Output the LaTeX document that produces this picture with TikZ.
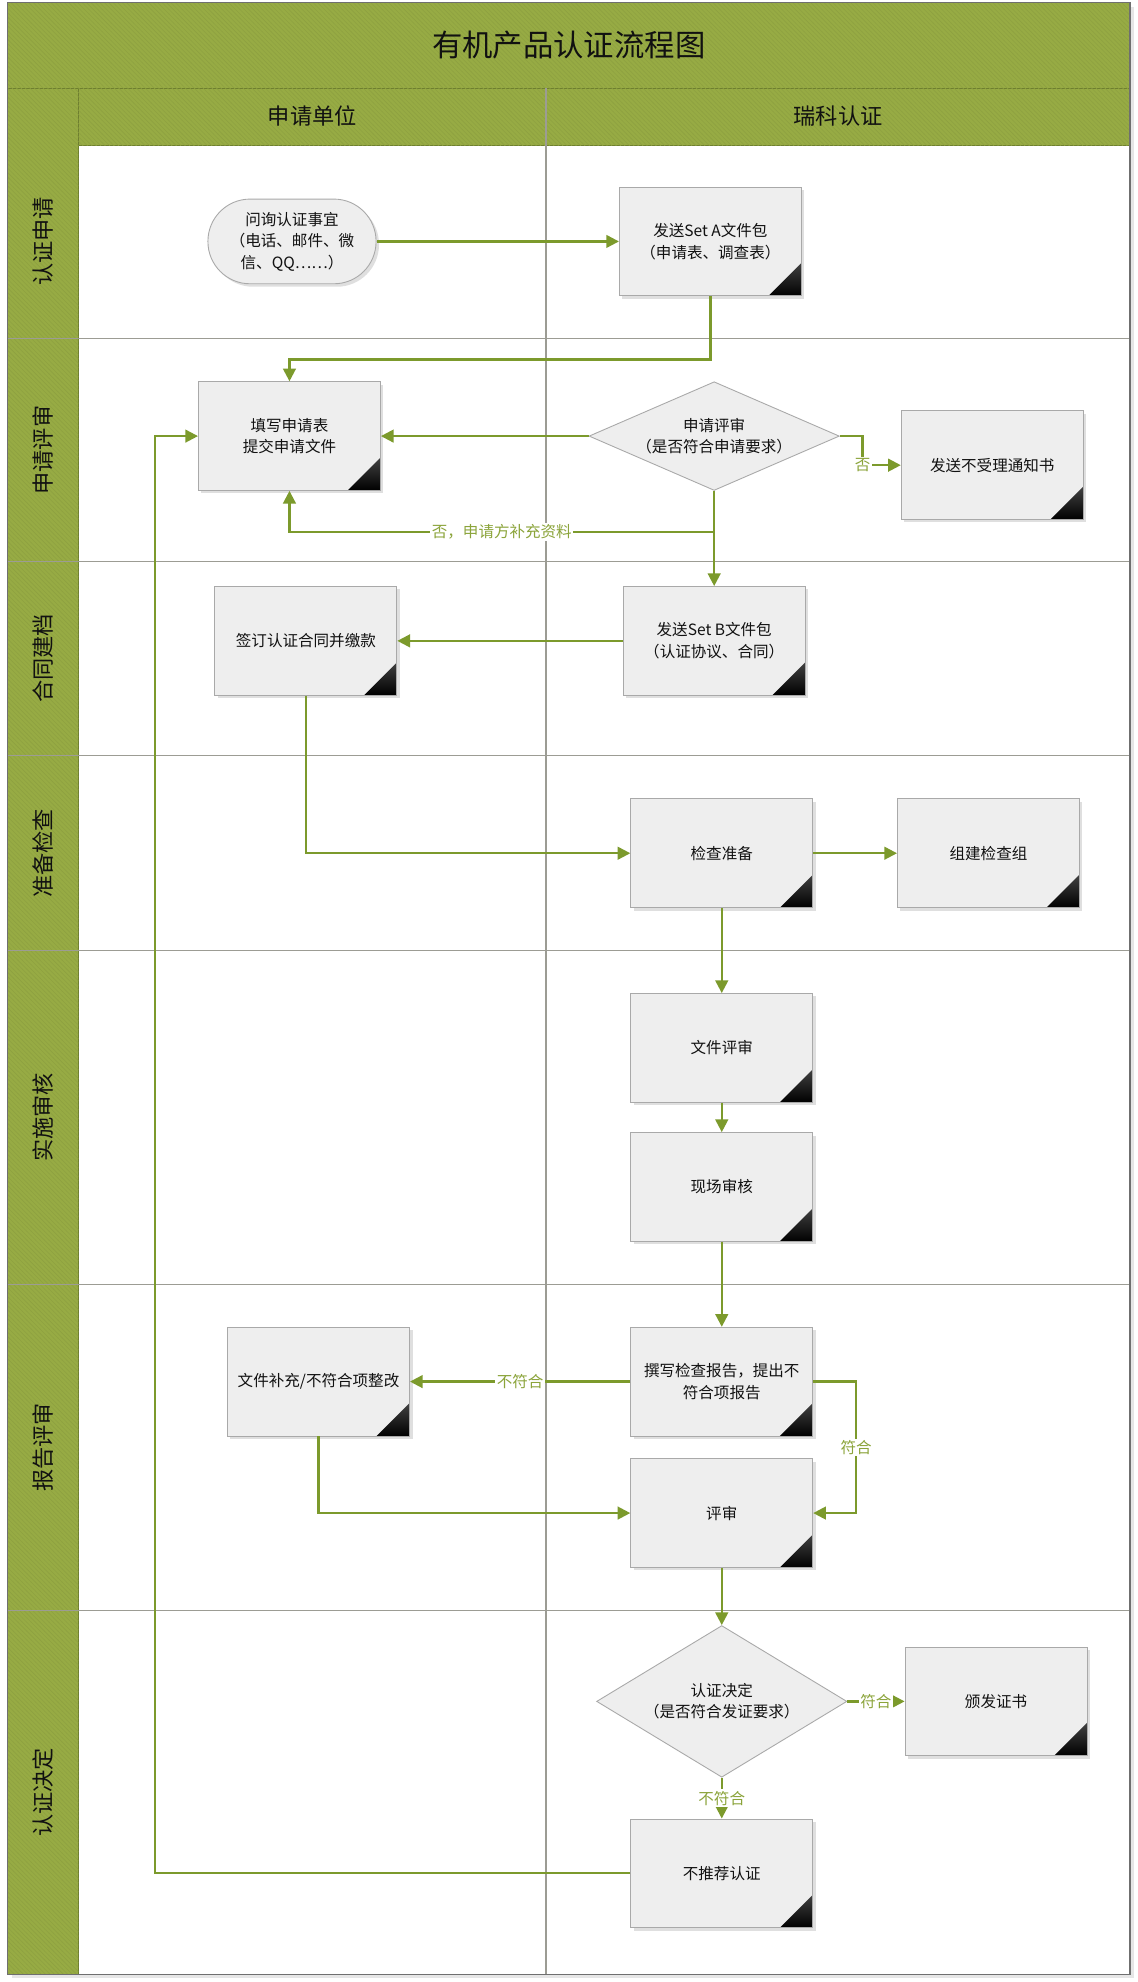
\documentclass[tikz,border=0pt]{standalone}
\usepackage{fontspec}
\setmainfont{Noto Sans CJK SC}
\usetikzlibrary{arrows.meta,positioning,shapes.geometric,shadows,patterns}
\definecolor{certInk}{HTML}{111111}
\definecolor{certBand}{HTML}{97AB44}
\definecolor{certBandLine}{HTML}{6E7F2F}
\definecolor{certFlow}{HTML}{7C9A2C}
\definecolor{certLabel}{HTML}{8BA43A}
\definecolor{certFill}{HTML}{EEEEEE}
\definecolor{certEdge}{HTML}{A9A9A9}
\definecolor{certRule}{HTML}{9C9C94}
\definecolor{certFrame}{HTML}{6F6F6F}
\tikzset{
  every picture/.style={font=\fontsize{10.5}{14.5}\selectfont, text=certInk},
  cert band/.style={fill=certBand, draw=certBandLine, line width=0.8pt,
    postaction={pattern=north west lines, pattern color=certBand!94!black}},
  cert rule/.style={draw=certRule, line width=0.8pt},
  cert title/.style={font=\fontsize{20.5}{24}\selectfont},
  cert head/.style={font=\fontsize{15}{18}\selectfont},
  cert phase/.style={font=\fontsize{15}{18}\selectfont, rotate=90},
  cert box/.style={draw=certEdge, line width=0.6pt, fill=certFill, align=center,
    minimum width=4.32cm, minimum height=2.58cm, inner sep=1mm,
    drop shadow={opacity=0.25, shadow xshift=0.7mm, shadow yshift=-0.7mm},
    path picture={\shade[shading angle=45, top color=gray!30, bottom color=black]
      (path picture bounding box.south east)
      -- ++(-0.78cm,0) -- ++(0.78cm,0.78cm) -- cycle;}},
  cert start/.style={draw=certEdge, line width=0.6pt, fill=certFill, align=center,
    minimum width=3.99cm, minimum height=2.01cm, rounded corners=1cm,
    drop shadow={opacity=0.25, shadow xshift=0.7mm, shadow yshift=-0.7mm}},
  cert decision/.style={diamond, draw=certEdge, line width=0.6pt, fill=certFill,
    align=center, inner sep=0pt, minimum width=5.94cm},
  cert flow/.style={-{Triangle[length=3mm,width=3mm]}, draw=certFlow, line width=1.5pt},
  cert label/.style={text=certLabel, fill=white, inner sep=1pt}
}

\begin{document}
\begin{tikzpicture}[x=0.03cm,y=-0.03cm]
  \useasboundingbox (0,0) rectangle (900,1568);
  \draw[certFrame, line width=1pt, fill=white, drop shadow={opacity=0.2}] (6,2) rectangle (894,1562);
  \draw[cert band] (6,2) rectangle (894,70);
  \draw[cert band] (6,70) rectangle (62,1562);
  \draw[cert band] (62,70) rectangle (894,115);
  \draw[cert rule] (432,70) -- (432,1562);
  \draw[cert rule] (6,268) -- (894,268);
  \draw[cert rule] (6,444) -- (894,444);
  \draw[cert rule] (6,598) -- (894,598);
  \draw[cert rule] (6,752) -- (894,752);
  \draw[cert rule] (6,1016) -- (894,1016);
  \draw[cert rule] (6,1274) -- (894,1274);
  \draw[certFrame, line width=1pt] (6,2) rectangle (894,1562);

  \node[cert title] (title) at (450,36) {有机产品认证流程图};
  \node[cert head] (laneApplicant) at (247,92) {申请单位};
  \node[cert head] (laneBody) at (663,92) {瑞科认证};

  \node[cert phase] (phaseApply) at (34,191) {认证申请};
  \node[cert phase] (phaseReview) at (34,356) {申请评审};
  \node[cert phase] (phaseContract) at (34,521) {合同建档};
  \node[cert phase] (phasePrep) at (34,675) {准备检查};
  \node[cert phase] (phaseAudit) at (34,884) {实施审核};
  \node[cert phase] (phaseReport) at (34,1145) {报告评审};
  \node[cert phase] (phaseDecide) at (34,1418) {认证决定};

  \node[cert start] (ask) at (231,191) {问询认证事宜\\（电话、邮件、微\\信、QQ……）};
  \node[cert box] (setA) at (562,191) {发送Set A文件包\\（申请表、调查表）};
  \node[cert box] (fillForm) at (229,345) {填写申请表\\提交申请文件};
  \node[cert decision, aspect=2.3, minimum height=2.58cm] (review) at (565,345) {申请评审\\（是否符合申请要求）};
  \node[cert box] (refuse) at (785,368) {发送不受理通知书};
  \node[cert box] (sign) at (242,507) {签订认证合同并缴款};
  \node[cert box] (setB) at (565,507) {发送Set B文件包\\（认证协议、合同）};
  \node[cert box] (prep) at (571,675) {检查准备};
  \node[cert box] (team) at (782,675) {组建检查组};
  \node[cert box] (docReview) at (571,829) {文件评审};
  \node[cert box] (onSite) at (571,939) {现场审核};
  \node[cert box] (report) at (571,1093) {撰写检查报告，提出不\\符合项报告};
  \node[cert box] (rectify) at (252,1093) {文件补充/不符合项整改};
  \node[cert box] (evaluate) at (571,1197) {评审};
  \node[cert decision, aspect=1.65, minimum height=3.6cm] (decide) at (571,1346) {认证决定\\（是否符合发证要求）};
  \node[cert box] (issue) at (788,1346) {颁发证书};
  \node[cert box] (decline) at (571,1482) {不推荐认证};

  \coordinate (reviewBack) at (565,421);
  \draw[cert flow] (ask) -- (setA);
  \draw[cert flow] (setA.south) -- ++(0,50) -| (fillForm.north);
  \draw[cert flow] (review.west) -- (fillForm.east);
  \draw[cert flow] (review.east) -- ++(18,0) |- node[cert label, pos=0.5] {否} (refuse.west);
  \draw[cert flow] (review) -- (setB);
  \draw[cert flow] (reviewBack) -| node[cert label, pos=0.25] {否，申请方补充资料} (fillForm.south);
  \draw[cert flow] (setB) -- (sign);
  \draw[cert flow] (sign.south) |- (prep.west);
  \draw[cert flow] (prep) -- (team);
  \draw[cert flow] (prep) -- (docReview);
  \draw[cert flow] (docReview) -- (onSite);
  \draw[cert flow] (onSite) -- (report);
  \draw[cert flow] (report) -- node[cert label] {不符合} (rectify);
  \draw[cert flow] (report.east) -- ++(34,0) |- node[cert label, pos=0.25] {符合} (evaluate.east);
  \draw[cert flow] (rectify.south) |- (evaluate.west);
  \draw[cert flow] (evaluate) -- (decide);
  \draw[cert flow] (decide) -- node[cert label] {符合} (issue);
  \draw[cert flow] (decide) -- node[cert label] {不符合} (decline);
  \draw[cert flow] (decline.west) -- ++(-376,0) |- (fillForm.west);
\end{tikzpicture}
\end{document}
